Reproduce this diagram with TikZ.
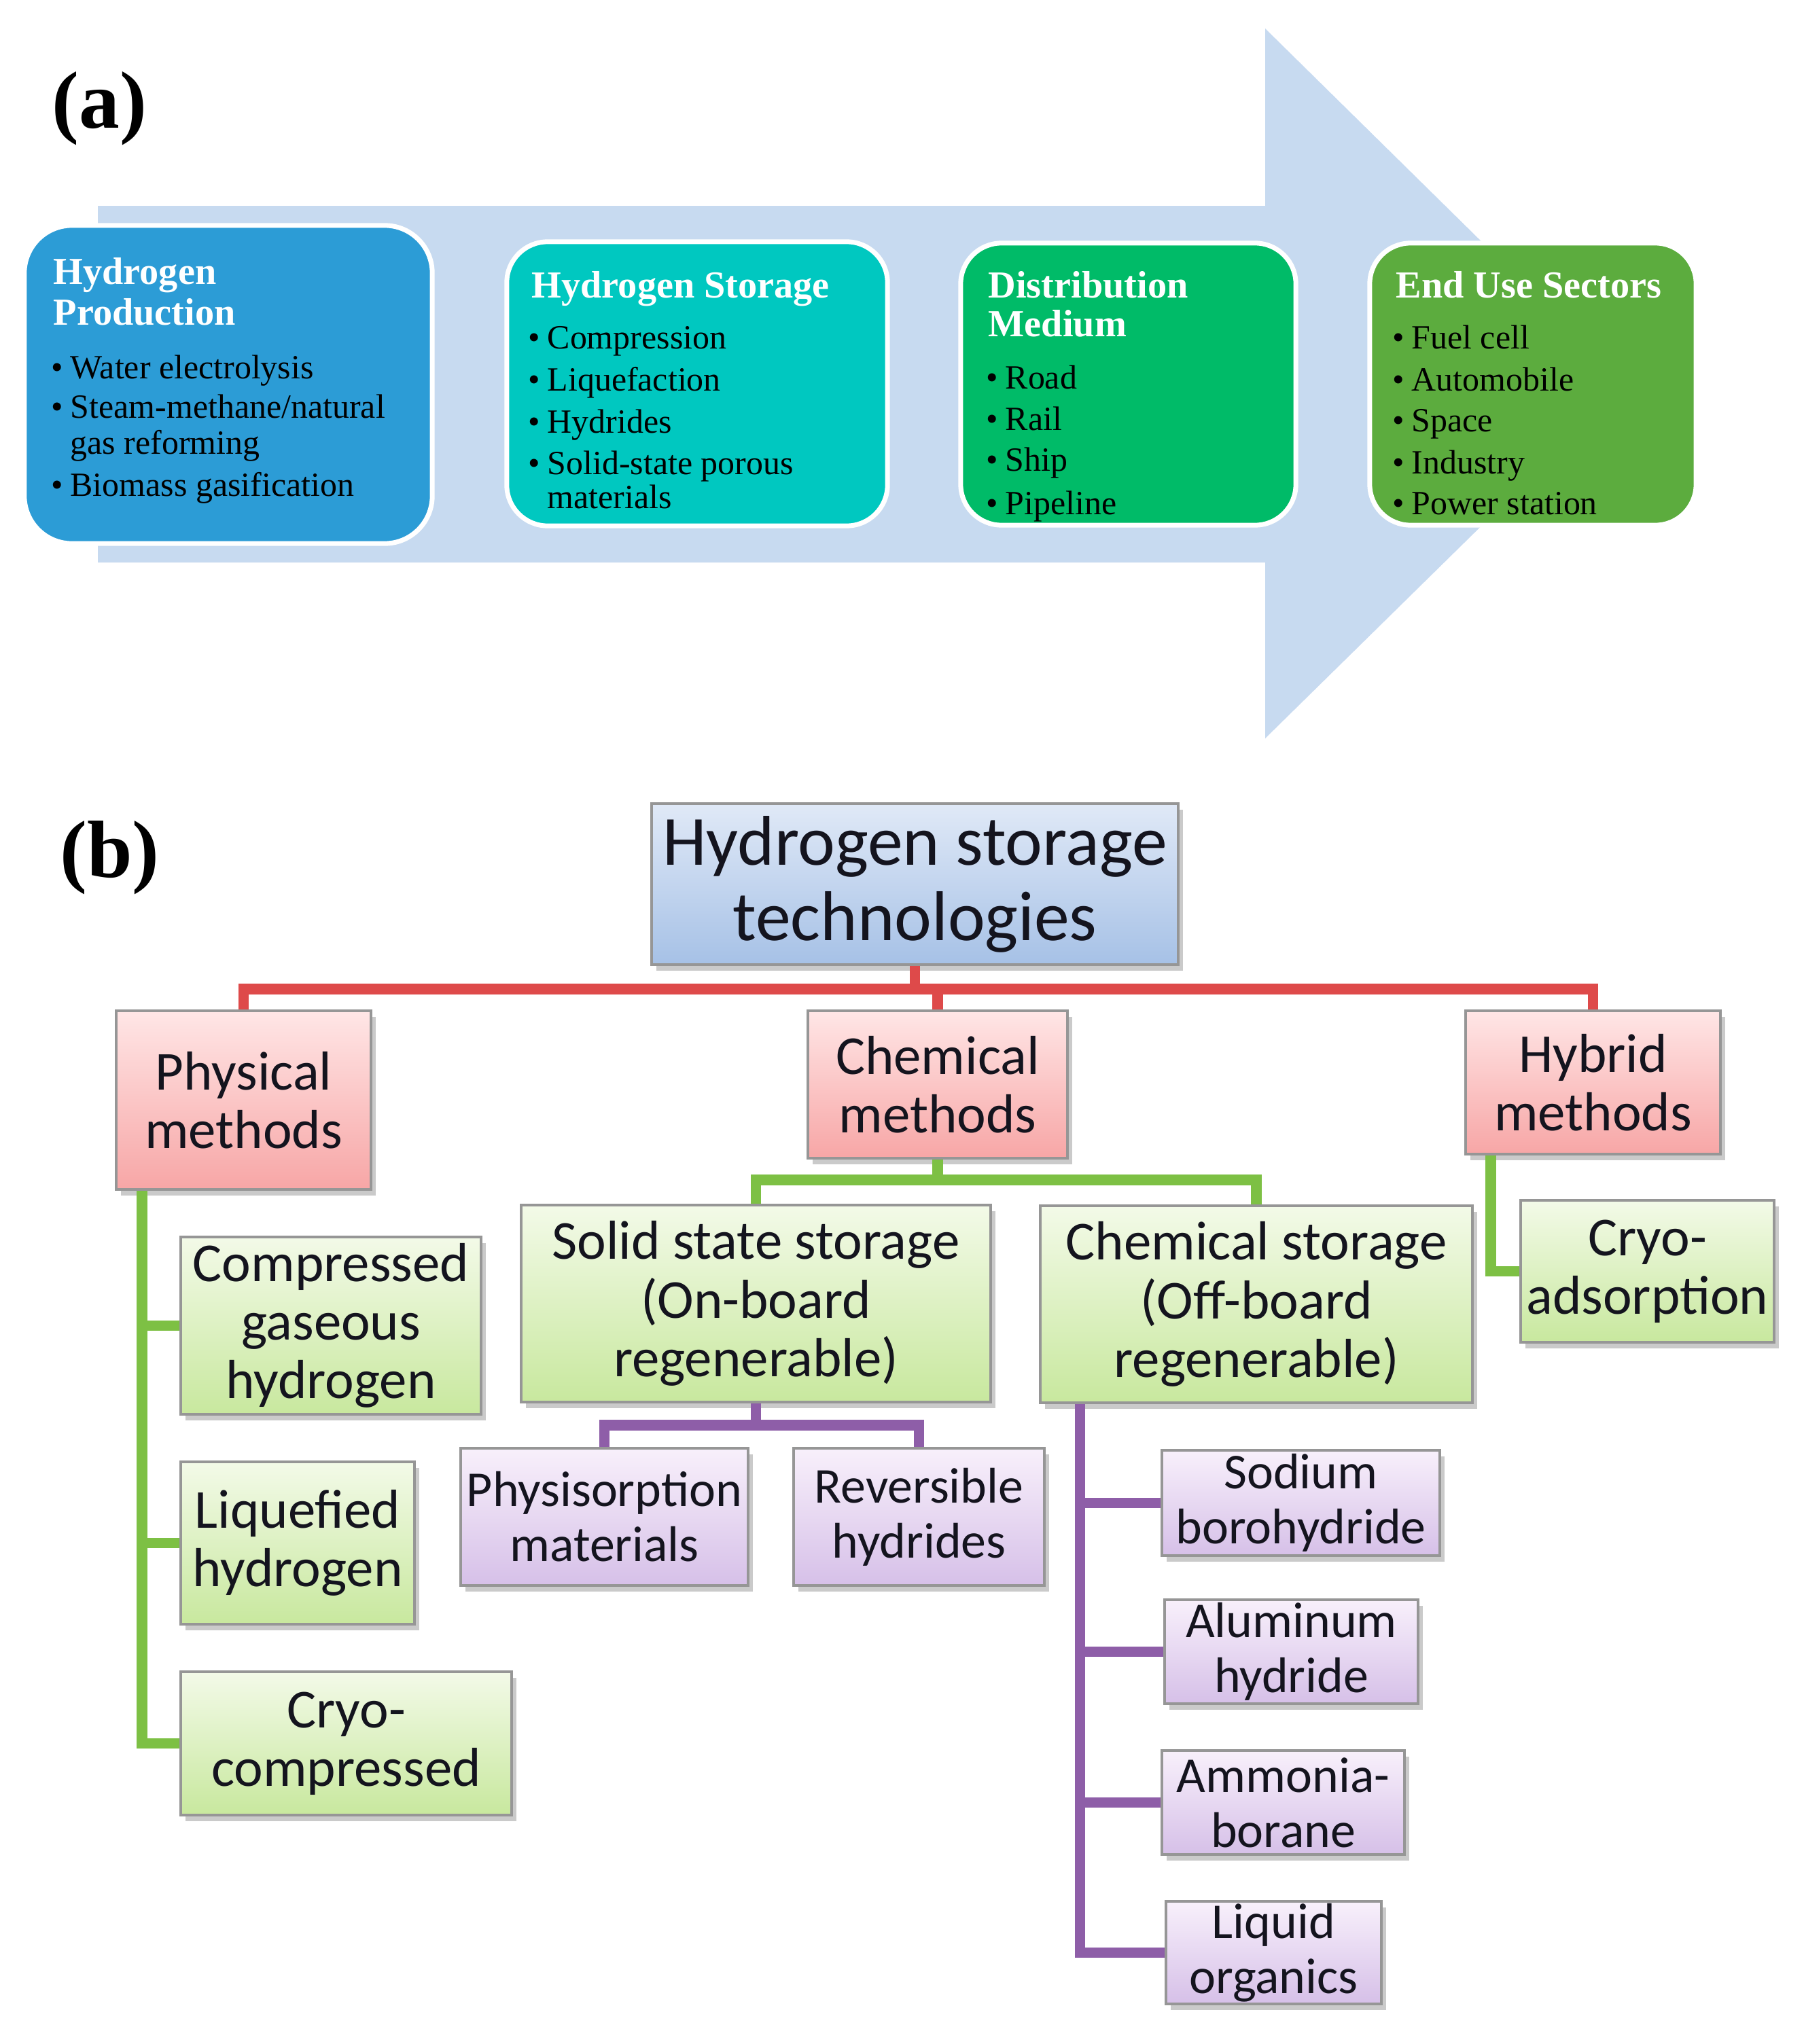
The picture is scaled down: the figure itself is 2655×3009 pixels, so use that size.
\documentclass[tikz,border=0pt]{standalone}
\usepackage{fontspec}
\setmainfont{Liberation Serif}
\newfontfamily\carl{Carlito}
\usetikzlibrary{shadows,calc}
\definecolor{arrowblue}{RGB}{199,218,240}
\definecolor{prodblue}{RGB}{44,156,214}
\definecolor{storteal}{RGB}{0,200,192}
\definecolor{distgreen}{RGB}{0,187,104}
\definecolor{endgreen}{RGB}{92,172,62}
\definecolor{rootTop}{RGB}{224,233,247}
\definecolor{rootBot}{RGB}{166,193,230}
\definecolor{pinkTop}{RGB}{255,230,230}
\definecolor{pinkBot}{RGB}{247,166,166}
\definecolor{greenTop}{RGB}{243,250,232}
\definecolor{greenBot}{RGB}{200,232,158}
\definecolor{purpTop}{RGB}{248,240,251}
\definecolor{purpBot}{RGB}{214,192,232}
\definecolor{boxgray}{RGB}{150,150,150}
\definecolor{textdark}{RGB}{20,20,30}
\definecolor{redline}{RGB}{222,74,74}
\definecolor{greenline}{RGB}{125,192,68}
\definecolor{purpline}{RGB}{142,94,168}
\newcommand\mybul{\llap{\textbullet\hspace{3pt}}}
\begin{document}
\begin{tikzpicture}[x=0.01cm,y=-0.01cm,
  abox/.style={draw=white, line width=2pt, rounded corners=0.6cm, inner sep=0pt},
  atitle/.style={anchor=base west, inner sep=0pt, text=white, font=\bfseries\fontsize{16}{17}\selectfont},
  aitem/.style={anchor=base west, inner sep=0pt, text=black, font=\fontsize{14.2}{16}\selectfont},
  plabel/.style={anchor=base west, inner sep=0pt, font=\bfseries\fontsize{34}{36}\selectfont},
  bbox/.style={draw=boxgray, line width=1.1pt, inner sep=0pt, align=center, text=textdark,
    drop shadow={shadow xshift=2pt, shadow yshift=-2.5pt, opacity=0.35, fill=black!60},
    font=\carl\fontsize{23}{24.5}\selectfont},
  rootbox/.style={bbox, top color=rootTop, bottom color=rootBot, font=\carl\fontsize{29.5}{31.6}\selectfont},
  pinkbox/.style={bbox, top color=pinkTop, bottom color=pinkBot},
  greenbox/.style={bbox, top color=greenTop, bottom color=greenBot},
  purpbox/.style={bbox, top color=purpTop, bottom color=purpBot, font=\carl\fontsize{21}{23}\selectfont},
  conn/.style={line width=4.3pt},
  redc/.style={conn, draw=redline},
  greenc/.style={conn, draw=greenline},
  purpc/.style={conn, draw=purpline}]
\useasboundingbox (0,0) rectangle (2655,3009);

% ---------- (a) ----------
\node[plabel] (la) at (76,189) {(a)};
\fill[arrowblue] (144,303) -- (1862,303) -- (1862,42) -- (2393,565) -- (1862,1087) -- (1862,828) -- (144,828) -- cycle;

\node[abox, fill=prodblue, minimum width=6cm, minimum height=4.68cm, rounded corners=0.7cm] (prod) at (336,566) {};
\node[abox, fill=storteal, minimum width=5.6cm, minimum height=4.18cm] (stor) at (1026,565) {};
\node[abox, fill=distgreen, minimum width=4.93cm, minimum height=4.15cm] (dist) at (1660.5,565.5) {};
\node[abox, fill=endgreen, minimum width=4.8cm, minimum height=4.15cm] (enduse) at (2256,565.5) {};

\node[atitle] (prodt1) at (78,418) {Hydrogen};
\node[atitle] (prodt2) at (78,478) {Production};
\node[aitem] (prodi1) at (103,557) {\mybul Water electrolysis};
\node[aitem] (prodi2) at (103,615) {\mybul Steam-methane/natural};
\node[aitem] (prodi3) at (103,668) {gas reforming};
\node[aitem] (prodi4) at (103,730) {\mybul Biomass gasification};

\node[atitle] (stort) at (782,438) {Hydrogen Storage};
\node[aitem] (stori1) at (805,513) {\mybul Compression};
\node[aitem] (stori2) at (805,575) {\mybul Liquefaction};
\node[aitem] (stori3) at (805,637) {\mybul Hydrides};
\node[aitem] (stori4) at (805,698) {\mybul Solid-state porous};
\node[aitem] (stori5) at (805,748) {materials};

\node[atitle] (distt1) at (1454,438) {Distribution};
\node[atitle] (distt2) at (1454,495) {Medium};
\node[aitem] (disti1) at (1479,572) {\mybul Road};
\node[aitem] (disti2) at (1479,633) {\mybul Rail};
\node[aitem] (disti3) at (1479,693) {\mybul Ship};
\node[aitem] (disti4) at (1479,757) {\mybul Pipeline};

\node[atitle] (endt) at (2054,438) {End Use Sectors};
\node[aitem] (endi1) at (2077,513) {\mybul Fuel cell};
\node[aitem] (endi2) at (2077,575) {\mybul Automobile};
\node[aitem] (endi3) at (2077,635) {\mybul Space};
\node[aitem] (endi4) at (2077,697) {\mybul Industry};
\node[aitem] (endi5) at (2077,757) {\mybul Power station};

% ---------- (b) ----------
\node[plabel] (lb) at (88,1291) {(b)};

\node[rootbox, minimum width=7.75cm, minimum height=2.37cm] (root) at (1346.5,1301.5) {Hydrogen storage\\technologies};

\node[pinkbox, minimum width=3.75cm, minimum height=2.63cm] (phys) at (358.5,1619.5) {Physical\\methods};
\node[pinkbox, minimum width=3.82cm, minimum height=2.17cm] (chem) at (1380,1596.5) {Chemical\\methods};
\node[pinkbox, minimum width=3.75cm, minimum height=2.11cm] (hyb) at (2344.5,1593.5) {Hybrid\\methods};

\node[greenbox, minimum width=4.42cm, minimum height=2.61cm] (comp) at (487,1951.5) {Compressed\\gaseous\\hydrogen};
\node[greenbox, minimum width=3.44cm, minimum height=2.39cm] (liq) at (438,2271.5) {Liquefied\\hydrogen};
\node[greenbox, minimum width=4.87cm, minimum height=2.11cm] (cryoc) at (509.5,2566.5) {Cryo-\\compressed};
\node[greenbox, minimum width=6.91cm, minimum height=2.90cm] (solid) at (1112.5,1919) {Solid state storage\\(On-board\\regenerable)};
\node[greenbox, minimum width=6.36cm, minimum height=2.90cm] (cstor) at (1849,1920) {Chemical storage\\(Off-board\\regenerable)};
\node[greenbox, minimum width=3.73cm, minimum height=2.09cm] (cads) at (2424.5,1871.5) {Cryo-\\adsorption};

\node[purpbox, minimum width=4.23cm, minimum height=2.02cm] (physi) at (889.5,2233) {Physisorption\\materials};
\node[purpbox, minimum width=3.69cm, minimum height=2.02cm] (rev) at (1352.5,2233) {Reversible\\hydrides};
\node[purpbox, minimum width=4.09cm, minimum height=1.55cm] (sod) at (1914.5,2212.5) {Sodium\\borohydride};
\node[purpbox, minimum width=3.73cm, minimum height=1.53cm] (alu) at (1900.5,2431.5) {Aluminum\\hydride};
\node[purpbox, minimum width=3.57cm, minimum height=1.53cm] (amm) at (1888.5,2653.5) {Ammonia-\\borane};
\node[purpbox, minimum width=3.17cm, minimum height=1.51cm] (lorg) at (1874.5,2874.5) {Liquid\\organics};

% connectors
\path (root.south) ++(0,34) coordinate (rj);
\draw[redc] (phys.north) |- (rj) -| (hyb.north);
\draw[redc] (root.south) -- (rj);
\draw[redc] (rj -| chem.north) -- (chem.north);

\path (phys.south west) ++(40,0) coordinate (pv);
\draw[greenc] (pv) |- (cryoc.west);
\draw[greenc] (pv |- comp.west) -- (comp.west);
\draw[greenc] (pv |- liq.west) -- (liq.west);

\path (chem.south) ++(0,30) coordinate (cj);
\draw[greenc] (solid.north) |- (cj) -| (cstor.north);
\draw[greenc] (chem.south) -- (cj);

\path (hyb.south west) ++(39,0) coordinate (hv);
\draw[greenc] (hv) |- (cads.west);

\path (solid.south) ++(0,32) coordinate (sj);
\draw[purpc] (physi.north) |- (sj) -| (rev.north);
\draw[purpc] (solid.south) -- (sj);

\path (cstor.south west) ++(61,0) coordinate (csv);
\draw[purpc] (csv) |- (lorg.west);
\draw[purpc] (csv |- sod.west) -- (sod.west);
\draw[purpc] (csv |- alu.west) -- (alu.west);
\draw[purpc] (csv |- amm.west) -- (amm.west);
\end{tikzpicture}
\end{document}
